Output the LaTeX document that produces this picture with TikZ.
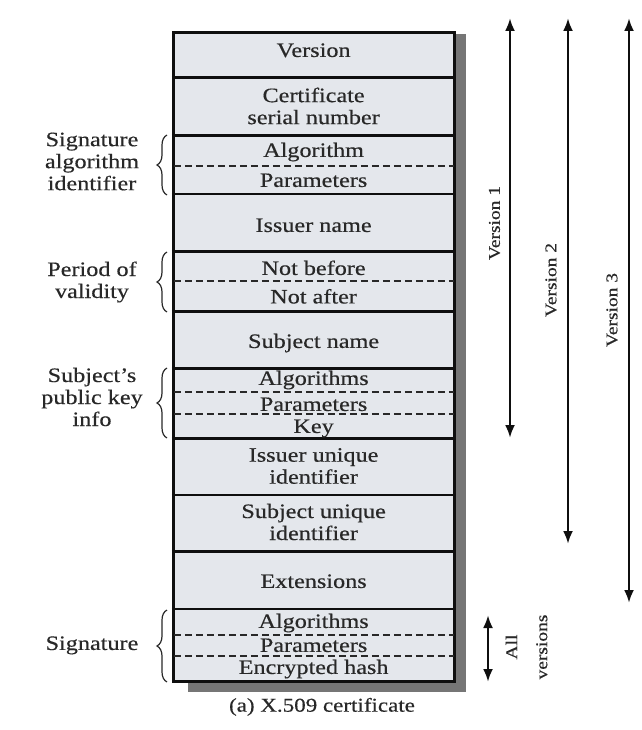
\documentclass[tikz,border=0pt]{standalone}
\usepackage{fontspec}
\setmainfont[FakeStretch=1.18,FakeBold=0.4]{Liberation Serif}
\usetikzlibrary{arrows.meta,decorations.pathreplacing}

\definecolor{fieldbg}{RGB}{228,231,236}
\definecolor{shadowgray}{RGB}{118,118,118}
\definecolor{ink}{RGB}{40,40,40}
\definecolor{rule}{RGB}{15,15,15}

\newcommand{\fieldsize}{\fontsize{20.5pt}{22pt}\selectfont}
\newcommand{\tagsize}{\fontsize{16.5pt}{30pt}\selectfont}
\newcommand{\captionsize}{\fontsize{19.5pt}{22pt}\selectfont}

\begin{document}
\begin{tikzpicture}[x=1pt,y=-1pt,
  fieldtext/.style={font=\fieldsize, text=ink, align=center, inner sep=0pt},
  fieldline/.style={fieldtext, text height=13.9pt, text depth=0pt},
  vlabel/.style={font=\tagsize, text=ink, rotate=90, inner sep=0pt, align=center},
  solidrule/.style={draw=rule, line width=2.6pt},
  dashrule/.style={draw=ink, line width=1.8pt, dash pattern=on 7pt off 4pt},
  grp/.style={draw=ink, line width=1.2pt, decorate, decoration={brace, amplitude=10pt}},
  reach/.style={draw=rule, line width=2.6pt,
    {Latex[length=13pt,width=10pt]}-{Latex[length=13pt,width=10pt]}},
]
\useasboundingbox (0,0) rectangle (641,730);

% drop shadow and certificate frame
\fill[shadowgray] (188,34) rectangle (466,692);
\node[draw=rule, fill=fieldbg, line width=3pt, minimum width=280.7pt,
      minimum height=648.3pt, inner sep=0pt] (cert) at (313.65,356.85) {};

% field separators
\foreach \y in {77.7,135.7,194,251.7,311.7,368.3,438.3,495,551.7,609}
  \draw[solidrule] (cert.west |- 0,\y) -- (cert.east |- 0,\y);
\foreach \y in {165.7,281,392.3,414.3,635,655.7}
  \draw[dashrule] ([xshift=2pt]cert.west |- 0,\y) -- ([xshift=-2pt]cert.east |- 0,\y);

% field names
\node[fieldline] (version)   at (313.6,50)    {Version};
\node[fieldtext] (serial)    at (313.6,106)   {Certificate\\serial number};
\node[fieldline] (sigalg)    at (313.6,150)   {Algorithm};
\node[fieldline] (sigpar)    at (313.6,180)   {Parameters};
\node[fieldline] (issuer)    at (313.6,225)   {Issuer name};
\node[fieldline] (notbefore) at (313.6,268)   {Not before};
\node[fieldline] (notafter)  at (313.6,296.5) {Not after};
\node[fieldline] (subject)   at (313.6,341)   {Subject name};
\node[fieldline] (pkalg)     at (313.6,378)   {Algorithms};
\node[fieldline] (pkpar)     at (313.6,404)   {Parameters};
\node[fieldline] (pkkey)     at (313.6,426)   {Key};
\node[fieldtext] (issuerid)  at (313.6,466)   {Issuer unique\\identifier};
\node[fieldtext] (subjectid) at (313.6,522)   {Subject unique\\identifier};
\node[fieldline] (ext)       at (313.6,581)   {Extensions};
\node[fieldline] (sgalg)     at (313.6,621)   {Algorithms};
\node[fieldline] (sgpar)     at (313.6,645)   {Parameters};
\node[fieldline] (sghash)    at (313.6,667)   {Encrypted hash};

% grouped fields on the left
\node[fieldtext] (lsigalg) at (92,161.5) {Signature\\algorithm\\identifier};
\node[fieldtext] (lvalid)  at (92,282)   {Period of\\validity};
\node[fieldtext] (lpk)     at (92,397)   {Subject's\\public key\\info};
\node[fieldline] (lsig)    at (92,643)   {Signature};
\draw[grp] (167,195) -- (167,135);
\draw[grp] (167,312) -- (167,252);
\draw[grp] (167,438) -- (167,368);
\draw[grp] (167,682) -- (167,610);

% version coverage
\coordinate (v1top) at (510,18);  \coordinate (v1bot) at (510,438);
\coordinate (v2top) at (568,18);  \coordinate (v2bot) at (568,544);
\coordinate (v3top) at (629,18);  \coordinate (v3bot) at (629,603);
\coordinate (alltop) at (488,615); \coordinate (allbot) at (488,682);
\draw[reach] (v1top) -- (v1bot);
\draw[reach] (v2top) -- (v2bot);
\draw[reach] (v3top) -- (v3bot);
\draw[reach] (alltop) -- (allbot);
\node[vlabel] (lv1) at (494.5,223) {Version 1};
\node[vlabel] (lv2) at (551,280)   {Version 2};
\node[vlabel] (lv3) at (612,310)   {Version 3};
\node[vlabel] (lall) at (526.5,647) {All\\versions};

\node[font=\captionsize, text=ink, inner sep=0pt, text height=13.3pt, text depth=0pt]
  (caption) at (322,705) {(a) X.509 certificate};
\end{tikzpicture}
\end{document}
